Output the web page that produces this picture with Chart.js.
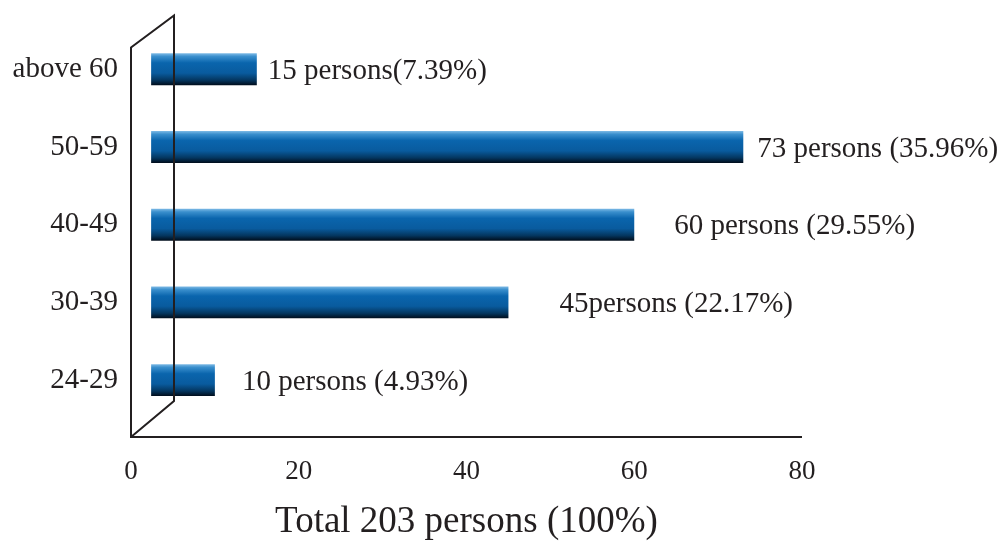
<!DOCTYPE html>
<html>
<head>
<meta charset="utf-8">
<script src="https://cdn.jsdelivr.net/npm/chart.js@4/dist/chart.umd.min.js"></script>
<style>
	html, body { margin: 0; padding: 0; background: #fff; }
	#wrap { width: 1002px; height: 544px; position: relative; }
</style>
</head>
<body>
<div id="wrap"><canvas id="ageChart"></canvas></div>
<script>
// --- Data ---
const ageGroups = ["above 60", "50-59", "40-49", "30-39", "24-29"];
const personCounts = [15, 73, 60, 45, 10];
const countLabels = [
	"15 persons(7.39%)",
	"73 persons (35.96%)",
	"60 persons (29.55%)",
	"45persons (22.17%)",
	"10 persons (4.93%)"
];
const xTicks = [0, 20, 40, 60, 80];
const axisTitle = "Total 203 persons (100%)";

// label gap after each bar end (px), as in the original layout
const labelGap = [11, 14, 40, 51, 27];

const ink = "#231f20";
const serif = "'Liberation Serif', 'DejaVu Serif', serif";

// 3D wall depth in pixels
const depthX = 43;
const depthY = 34;

// back wall + floor drawn after the bars (back edge crosses the bars)
const wallPlugin = {
	id: "wall",
	afterDatasetsDraw(chart) {
		const { ctx, chartArea, scales } = chart;
		const x0 = scales.x.getPixelForValue(0);
		const xEnd = scales.x.getPixelForValue(80);
		const frontTop = chartArea.top + 17;
		const frontBottom = chartArea.bottom + 18;
		ctx.save();
		ctx.strokeStyle = ink;
		ctx.lineWidth = 2;
		ctx.beginPath();
		ctx.moveTo(xEnd, frontBottom);
		ctx.lineTo(x0, frontBottom);
		ctx.lineTo(x0, frontTop);
		ctx.lineTo(x0 + depthX, frontTop - depthY + 2);
		ctx.lineTo(x0 + depthX, frontBottom - depthY - 2);
		ctx.lineTo(x0, frontBottom);
		ctx.stroke();
		ctx.restore();
	}
};

// value labels beside the bars
const labelPlugin = {
	id: "countLabels",
	afterDatasetsDraw(chart) {
		const { ctx, scales } = chart;
		ctx.save();
		ctx.fillStyle = ink;
		ctx.font = "29px " + serif;
		ctx.textBaseline = "middle";
		ctx.textAlign = "left";
		personCounts.forEach((v, i) => {
			const x = scales.x.getPixelForValue(v) + labelGap[i];
			const y = scales.y.getPixelForValue(i);
			ctx.fillText(countLabels[i], x, y + 2);
		});
		ctx.restore();
	}
};

// glossy blue fill, light on top and dark at the bottom
function barFill(context) {
	const chart = context.chart;
	if (!chart.chartArea) return "#0b5fa3";
	const yc = chart.scales.y.getPixelForValue(context.dataIndex);
	const half = 16;
	const g = chart.ctx.createLinearGradient(0, yc - half, 0, yc + half);
	g.addColorStop(0, "#7fbbe6");
	g.addColorStop(0.1, "#3a8fcd");
	g.addColorStop(0.3, "#0a65ad");
	g.addColorStop(0.62, "#095b9e");
	g.addColorStop(0.84, "#04365f");
	g.addColorStop(1, "#000c1a");
	return g;
}

Chart.defaults.font.family = serif;
Chart.defaults.color = ink;

new Chart(document.getElementById("ageChart"), {
	type: "bar",
	data: {
		labels: ageGroups,
		datasets: [{
			data: personCounts,
			base: 2.4,
			backgroundColor: barFill,
			borderWidth: 0,
			categoryPercentage: 1,
			barPercentage: 0.41
		}]
	},
	options: {
		indexAxis: "y",
		responsive: true,
		maintainAspectRatio: false,
		animation: false,
		layout: { padding: { top: 30, right: 200, left: 0, bottom: 0 } },
		plugins: {
			legend: { display: false },
			tooltip: { enabled: false }
		},
		scales: {
			x: {
				min: 0,
				max: 80,
				afterBuildTicks: (scale) => { scale.ticks = xTicks.map(v => ({ value: v })); },
				afterFit: (scale) => { scale.height = 125; },
				grid: { display: false, drawTicks: false },
				border: { display: false },
				ticks: { font: { size: 27 }, padding: 37, color: ink },
				title: {
					display: true,
					text: axisTitle,
					font: { size: 37 },
					color: ink,
					padding: { top: 0, bottom: 0 }
				}
			},
			y: {
				afterFit: (scale) => { scale.width = 131; },
				grid: { display: false, drawTicks: false },
				border: { display: false },
				ticks: { font: { size: 29 }, padding: 13, color: ink }
			}
		}
	},
	plugins: [wallPlugin, labelPlugin]
});
</script>
</body>
</html>
